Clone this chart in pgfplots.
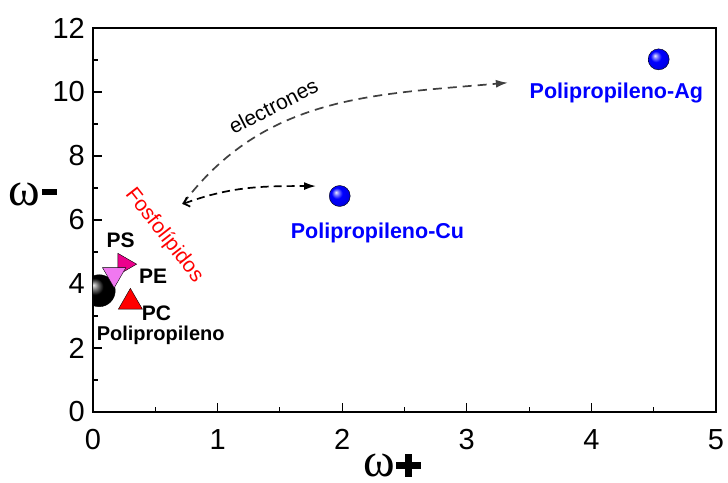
\documentclass[border=0pt]{standalone}
\usepackage{fontspec}
\setmainfont{Liberation Sans}
\newfontfamily\serifw{Liberation Serif}
\usepackage{pgfplots}
\pgfplotsset{compat=1.18}
\usetikzlibrary{arrows.meta}
\definecolor{pviolet}{RGB}{240,120,240}
\definecolor{darkg}{RGB}{64,64,64}
\makeatletter
\pgfdeclareradialshading[tikz@ball]{ball}{\pgfqpoint{-9bp}{9bp}}{%
 color(0bp)=(tikz@ball!8!white); color(6bp)=(tikz@ball!55!white);
 color(13bp)=(tikz@ball); color(24bp)=(tikz@ball!92!black);
 color(30bp)=(tikz@ball!80!black); color(50bp)=(black)}
\makeatother
\newcommand{\thickplus}{\makebox[25pt][l]{\rule[7pt]{25pt}{7pt}\hspace{-16pt}\rule[-1pt]{7pt}{23pt}}}
\begin{document}
\begin{tikzpicture}
\useasboundingbox (-93pt,-70pt) rectangle (635pt,412pt);
\begin{axis}[
  at={(0pt,0pt)}, anchor=south west,
  scale only axis, width=623pt, height=384pt,
  xmin=0, xmax=5, ymin=0, ymax=12,
  xtick={0,1,2,3,4,5}, ytick={0,2,4,6,8,10,12},
  minor x tick num=1, minor y tick num=1,
  tick align=inside, xtick pos=bottom, ytick pos=left,
  major tick length=9pt, minor tick length=5pt,
  axis line style={line width=1.3pt},
  every tick/.style={line width=1.1pt, black},
  tick label style={font=\fontsize{29}{34}\selectfont},
  /pgf/number format/assume math mode=true,
  xticklabel style={inner sep=0pt, anchor=north, yshift=-17pt},
  yticklabel style={inner sep=0pt, anchor=east, xshift=-8pt},
  clip marker paths=true,
]
% Polipropileno (black ball)
\addplot[only marks, mark=ball, mark size=16pt, mark options={ball color=black}] coordinates {(0.05,3.79)};
% PE (magenta right triangle)
\addplot[only marks, mark=triangle*, mark size=12.5pt, mark options={rotate=-90, fill=magenta, draw=none}] coordinates {(0.25,4.62)};
% PS (violet down triangle)
\addplot[only marks, mark=triangle*, mark size=13.5pt, mark options={rotate=180, fill=pviolet, draw=none}] coordinates {(0.17,4.30)};
% PC (red up triangle)
\addplot[only marks, mark=triangle*, mark size=13.9pt, mark options={fill=red, draw=none}] coordinates {(0.30,3.43)};
% Polipropileno-Cu and -Ag (blue balls)
\addplot[only marks, mark=ball, mark size=10.5pt, mark options={ball color=blue}] coordinates {(1.98,6.75) (4.54,11.02)};

% arrows
\draw[darkg, line width=1.7pt, dash pattern=on 9pt off 6pt, -{Latex[length=12pt,width=8pt]}]
  (axis cs:0.72,6.5) to[out=53,in=185] (axis cs:3.33,10.29);
\draw[black, line width=1.7pt, dash pattern=on 8pt off 5pt, {Straight Barb[length=5pt,width=10pt]}-{Latex[length=12pt,width=8pt]}]
  (axis cs:0.72,6.5) to[out=20,in=180] (axis cs:1.79,7.06);

% labels
\node[font=\fontsize{21}{24}\selectfont\bfseries] at (axis cs:0.221,5.375) {PS};
\node[font=\fontsize{21}{24}\selectfont\bfseries] at (axis cs:0.482,4.25) {PE};
\node[font=\fontsize{21}{24}\selectfont\bfseries] at (axis cs:0.51,3.08) {PC};
\node[font=\fontsize{20}{24}\selectfont\bfseries] at (axis cs:0.543,2.39) {Polipropileno};
\node[red, rotate=-52, font=\fontsize{21}{24}\selectfont] at (axis cs:0.571,5.52) {Fosfolípidos};
\node[rotate=27, font=\fontsize{21}{24}\selectfont] at (axis cs:1.447,9.56) {electrones};
\node[blue, font=\fontsize{21.5}{24}\selectfont\bfseries] at (axis cs:2.283,5.59) {Polipropileno-Cu};
\node[blue, font=\fontsize{21.5}{24}\selectfont\bfseries] at (axis cs:4.20,9.97) {Polipropileno-Ag};
\end{axis}
% axis titles
\node[anchor=base, inner sep=0pt] at (-60.5pt,206pt) {{\serifw\fontsize{48}{48}\selectfont ω}\hspace{2pt}\rule[11pt]{15pt}{6pt}};
\node[anchor=base, inner sep=0pt] at (299.5pt,-64pt) {{\serifw\fontsize{48}{48}\selectfont ω}\hspace{1pt}\thickplus};
\end{tikzpicture}
\end{document}
